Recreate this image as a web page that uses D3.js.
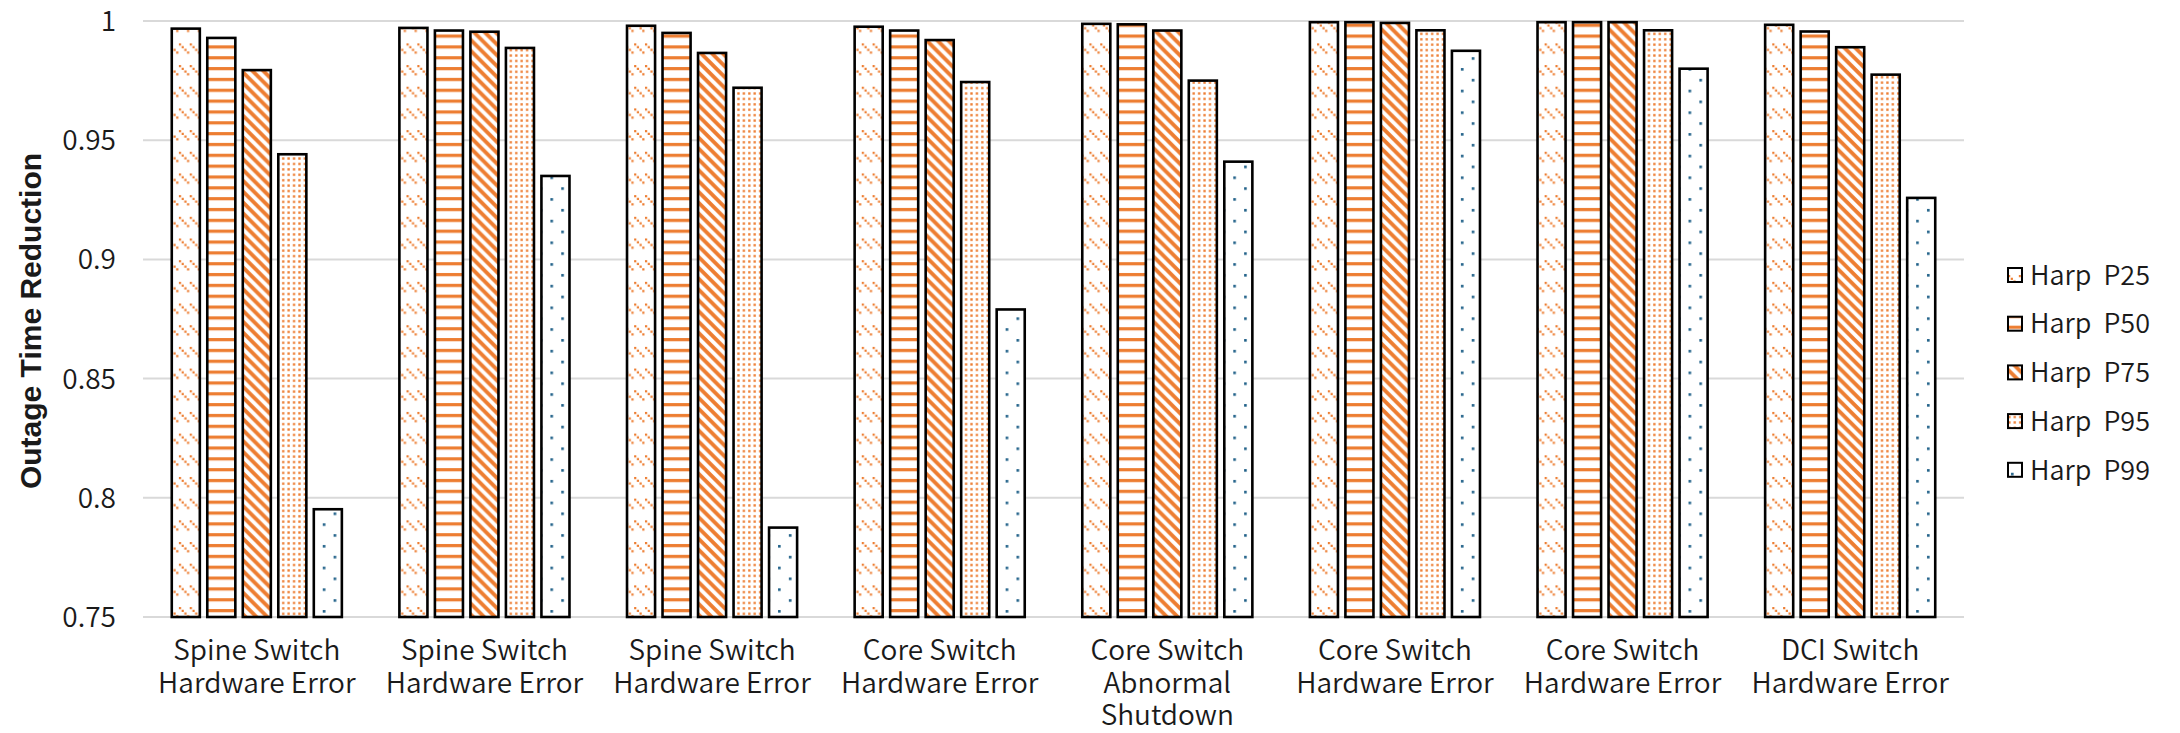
<!DOCTYPE html>
<html>
<head>
<meta charset="utf-8" />
<title>outage time reduction</title>
<script src="https://cdn.jsdelivr.net/npm/d3@7"></script>
<style>
  body { margin: 0; background: #fff; }
  text { font-family: "Noto Sans CJK SC", "Noto Sans", sans-serif; font-weight: 350; fill: #1a1a1a; }
</style>
</head>
<body>
<svg width="2180" height="733"></svg>
<script>
// data
var categories = [
  "Spine Switch|Hardware Error",
  "Spine Switch|Hardware Error",
  "Spine Switch|Hardware Error",
  "Core Switch|Hardware Error",
  "Core Switch|Abnormal|Shutdown",
  "Core Switch|Hardware Error",
  "Core Switch|Hardware Error",
  "DCI Switch|Hardware Error"
];
var seriesNames = ["Harp P25", "Harp P50", "Harp P75", "Harp P95", "Harp P99"];
var p25 = [0.9968, 0.9971, 0.9980, 0.9976, 0.9988, 0.9995, 0.9995, 0.9984];
var p50 = [0.9929, 0.9960, 0.9950, 0.9960, 0.9986, 0.9995, 0.9995, 0.9956];
var p75 = [0.9794, 0.9955, 0.9866, 0.9920, 0.9960, 0.9992, 0.9995, 0.9890];
var p95 = [0.9441, 0.9887, 0.9720, 0.9744, 0.9750, 0.9961, 0.9961, 0.9775];
var p99 = [0.7952, 0.9350, 0.7875, 0.8790, 0.9410, 0.9875, 0.9800, 0.9258];
var yTicks = [0.75, 0.8, 0.85, 0.9, 0.95, 1];
var yTitle = "Outage Time Reduction";

var seriesValues = [p25, p50, p75, p95, p99];

var svg = d3.select("svg");
var plot = {left: 143, right: 1964, top: 21, bottom: 617};
var orange = "#ed7d31", blue = "#1f6088";

// patterns (excel-like fills, one cell = 2.71px)
var defs = svg.append("defs");
var c = 2.71, u = 4 * c;

// dashed downward diagonal
var pt = defs.append("pattern").attr("id", "pat0").attr("patternUnits", "userSpaceOnUse")
  .attr("width", u).attr("height", 2 * u);
pt.append("rect").attr("width", u).attr("height", 2 * u).attr("fill", "#fff");
pt.selectAll(".d").data([0, 1, 2, 3]).join("rect")
  .attr("x", function(d){ return d * c; }).attr("y", function(d){ return d * c; })
  .attr("width", 2.2).attr("height", 2.2).attr("fill", orange);

// horizontal lines
pt = defs.append("pattern").attr("id", "pat1").attr("patternUnits", "userSpaceOnUse")
  .attr("width", u).attr("height", u);
pt.append("rect").attr("width", u).attr("height", u).attr("fill", "#fff");
pt.append("rect").attr("y", 2).attr("width", u).attr("height", 3.2).attr("fill", orange);

// wide downward diagonal
pt = defs.append("pattern").attr("id", "pat2").attr("patternUnits", "userSpaceOnUse")
  .attr("width", u).attr("height", u);
pt.append("rect").attr("width", u).attr("height", u).attr("fill", "#fff");
pt.append("path").attr("d", "M0,0 L" + (u / 2) + ",0 L" + u + "," + (u / 2) + " L" + u + "," + u + " Z M0," + (u / 2) + " L" + (u / 2) + "," + u + " L0," + u + " Z")
  .attr("fill", orange);

// dotted
pt = defs.append("pattern").attr("id", "pat3").attr("patternUnits", "userSpaceOnUse")
  .attr("width", 2 * c).attr("height", 2 * c);
pt.append("rect").attr("width", 2 * c).attr("height", 2 * c).attr("fill", "#fff");
pt.append("rect").attr("x", 0.2).attr("y", 0.2).attr("width", 2.3).attr("height", 2.3).attr("fill", orange);

// sparse dots
pt = defs.append("pattern").attr("id", "pat4").attr("patternUnits", "userSpaceOnUse")
  .attr("width", 2 * u).attr("height", 2 * u);
pt.append("rect").attr("width", 2 * u).attr("height", 2 * u).attr("fill", "#fff");
pt.append("rect").attr("x", 3).attr("y", 3).attr("width", 2.6).attr("height", 2.6).attr("fill", blue);
pt.append("rect").attr("x", 3 + u).attr("y", 3 + u).attr("width", 2.6).attr("height", 2.6).attr("fill", blue);

// scales
var x0 = d3.scaleBand().domain(d3.range(categories.length))
  .range([plot.left, plot.right]).paddingInner(0.22).paddingOuter(0.11);
var x1 = d3.scaleBand().domain(d3.range(seriesNames.length))
  .range([0, x0.bandwidth()]).paddingInner(0.21).paddingOuter(0.105);
var y = d3.scaleLinear().domain([0.75, 1]).range([plot.bottom, plot.top]);

// grid lines
svg.append("g").selectAll("line").data(yTicks).join("line")
  .attr("x1", plot.left).attr("x2", plot.right)
  .attr("y1", function(d){ return y(d); }).attr("y2", function(d){ return y(d); })
  .attr("stroke", "#d9d9d9").attr("stroke-width", 2);

// y axis labels
var yAxis = d3.axisLeft(y).tickValues(yTicks).tickSize(0).tickPadding(0)
  .tickFormat(function(d){ return String(+d.toFixed(2)); });
var ga = svg.append("g").attr("transform", "translate(116,0)").call(yAxis);
ga.select(".domain").remove();
ga.selectAll("text").attr("font-size", 28).attr("font-family", null).attr("fill", "#1a1a1a").attr("dy", "0.34em");

// bars
var groups = svg.append("g").selectAll("g").data(categories).join("g")
  .attr("transform", function(d, i){ return "translate(" + x0(i) + ",0)"; });
groups.selectAll("rect")
  .data(function(d, i){ return seriesValues.map(function(s, k){ return {k: k, v: s[i]}; }); })
  .join("rect")
  .attr("x", function(d){ return x1(d.k); })
  .attr("y", function(d){ return y(d.v); })
  .attr("width", x1.bandwidth())
  .attr("height", function(d){ return y(0.75) - y(d.v); })
  .attr("fill", function(d){ return "url(#pat" + d.k + ")"; })
  .attr("stroke", "#000").attr("stroke-width", 2.6);

// category labels
svg.append("g").selectAll("text").data(categories).join("text")
  .attr("x", function(d, i){ return x0(i) + x0.bandwidth() / 2; })
  .attr("y", 660)
  .attr("text-anchor", "middle").attr("font-size", 28)
  .each(function(d){
    var t = d3.select(this);
    d.split("|").forEach(function(line, j){
      t.append("tspan").attr("x", t.attr("x")).attr("dy", j ? 32.5 : 0).text(line);
    });
  });

// y title
svg.append("text")
  .attr("transform", "translate(41," + ((plot.top + plot.bottom) / 2 + 2) + ") rotate(-90)")
  .attr("text-anchor", "middle").attr("font-size", 30)
  .style("font-weight", "bold")
  .style("font-family", "'Liberation Sans', Arial, sans-serif")
  .text(yTitle);

// legend
var lg = svg.append("g").selectAll("g").data(seriesNames).join("g")
  .attr("transform", function(d, i){ return "translate(2008," + (275 + i * 48.7) + ")"; });
lg.append("rect").attr("x", 0).attr("y", -7).attr("width", 14).attr("height", 14)
  .attr("fill", function(d, i){ return "url(#pat" + i + ")"; })
  .attr("stroke", "#000").attr("stroke-width", 2);
lg.append("text").attr("x", 22).attr("dy", "0.36em").attr("font-size", 27)
  .attr("word-spacing", 6).text(function(d){ return d; });
</script>
</body>
</html>
